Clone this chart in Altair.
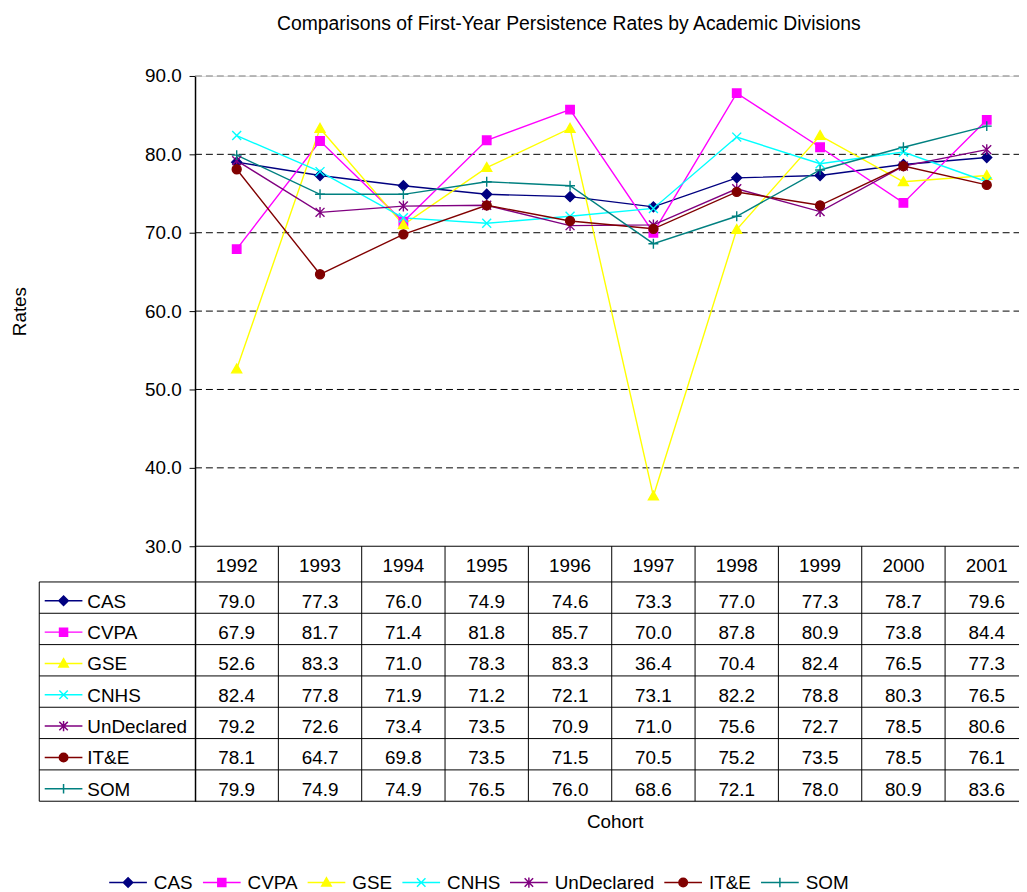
import altair as alt
import pandas as pd

TITLE = "Comparisons of First-Year Persistence Rates by Academic Divisions"
Y_TITLE = "Rates"
X_TITLE = "Cohort"
YEARS = [1992, 1993, 1994, 1995, 1996, 1997, 1998, 1999, 2000, 2001]
SERIES = ["CAS", "CVPA", "GSE", "CNHS", "UnDeclared", "IT&E", "SOM"]
CAS = [79.0, 77.3, 76.0, 74.9, 74.6, 73.3, 77.0, 77.3, 78.7, 79.6]
CVPA = [67.9, 81.7, 71.4, 81.8, 85.7, 70.0, 87.8, 80.9, 73.8, 84.4]
GSE = [52.6, 83.3, 71.0, 78.3, 83.3, 36.4, 70.4, 82.4, 76.5, 77.3]
CNHS = [82.4, 77.8, 71.9, 71.2, 72.1, 73.1, 82.2, 78.8, 80.3, 76.5]
UNDECLARED = [79.2, 72.6, 73.4, 73.5, 70.9, 71.0, 75.6, 72.7, 78.5, 80.6]
ITE = [78.1, 64.7, 69.8, 73.5, 71.5, 70.5, 75.2, 73.5, 78.5, 76.1]
SOM = [79.9, 74.9, 74.9, 76.5, 76.0, 68.6, 72.1, 78.0, 80.9, 83.6]
VALUES = [CAS, CVPA, GSE, CNHS, UNDECLARED, ITE, SOM]
Y_TICKS = [30, 40, 50, 60, 70, 80, 90]
GRID_LINES = [40, 50, 60, 70, 80, 90]

COLORS = ["#000080", "#FF00FF", "#FFFF00", "#00FFFF", "#800080", "#800000", "#008080"]
FONT = "Liberation Sans"
FS = 19

# ---- geometry (pixels, relative to plot origin) ----
PLOT_W = 830.5
PLOT_H = 731
COL_W = 84.0
PX_PER_UNIT = 474 / 60
Y_MAX = 90
Y_AXIS_MIN = 30
Y_MIN = Y_MAX - PLOT_H / PX_PER_UNIT
X_MIN = YEARS[0] - 0.5
X_MAX = X_MIN + PLOT_W / COL_W
X_END = YEARS[-1] + 0.5

HEADER_TOP = 474
HEADER_BOTTOM = 510
ROW_H = (PLOT_H - HEADER_BOTTOM) / len(SERIES)
LABEL_LEFT = -157
SYMBOL_X = -132.5
LABEL_X = -108.5
CONTENT_OFF = 19


def x_at(px):
    return X_MIN + px / COL_W


def y_at(py):
    return Y_MAX - py / PX_PER_UNIT


# ---- marker shapes ----
def diamond(r):
    return f"M0,{-r}L{r},0L0,{r}L{-r},0Z"


def square(r):
    r = 0.85 * r
    return f"M{-r},{-r}H{r}V{r}H{-r}Z"


def triangle(r):
    return f"M0,{-r}L{r},{0.75 * r}H{-r}Z"


def xmark(r):
    r = 0.9 * r
    return f"M{-r},{-r}L{r},{r}M{-r},{r}L{r},{-r}"


def star(r):
    a = 0.9 * r
    return f"M{-a},{-a}L{a},{a}M{-a},{a}L{a},{-a}M0,{-1.1 * r}V{1.1 * r}"


def circle(r):
    r = 0.9 * r
    return f"M{-r},0A{r},{r},0,1,1,{r},0A{r},{r},0,1,1,{-r},0Z"


def plus(r):
    return f"M{-r},0H{r}M0,{-r}V{r}"


SHAPES = [diamond, square, triangle, xmark, star, circle, plus]
MARKER_PATHS = [f(1) for f in SHAPES]
KEY_R = 0.25
KEY_PATHS = ["M-1,0H1" + f(KEY_R) for f in SHAPES]

# ---- data tables ----
long_rows, cell_rows, label_rows = [], [], []
for i, (s, vals) in enumerate(zip(SERIES, VALUES)):
    cy = y_at(HEADER_BOTTOM + i * ROW_H + CONTENT_OFF)
    label_rows.append({"series": s, "sx": x_at(SYMBOL_X), "lx": x_at(LABEL_X), "ty": cy})
    for yr, v in zip(YEARS, vals):
        long_rows.append({"series": s, "year": yr, "value": v})
        cell_rows.append({"series": s, "year": yr, "value": v, "ty": cy})
df_long = pd.DataFrame(long_rows)
df_cells = pd.DataFrame(cell_rows)
df_labels = pd.DataFrame(label_rows)
df_header = pd.DataFrame({"year": YEARS, "label": [str(y) for y in YEARS],
                          "ty": [y_at(HEADER_TOP + CONTENT_OFF)] * len(YEARS)})
df_grid = pd.DataFrame({"gy": GRID_LINES, "x0": [X_MIN] * len(GRID_LINES),
                        "x1": [X_END] * len(GRID_LINES),
                        "gcol": ["#808080" if g == Y_MAX else "#000000" for g in GRID_LINES]})

rule_rows = [{"x0": X_MIN, "x1": X_END, "y0": Y_AXIS_MIN, "y1": Y_AXIS_MIN}]
for i in range(len(SERIES) + 1):
    yb = y_at(HEADER_BOTTOM + i * ROW_H)
    rule_rows.append({"x0": x_at(LABEL_LEFT), "x1": X_END, "y0": yb, "y1": yb})
for k in range(1, len(YEARS) + 1):
    rule_rows.append({"x0": X_MIN + k, "x1": X_MIN + k, "y0": Y_MIN, "y1": Y_AXIS_MIN})
rule_rows.append({"x0": x_at(LABEL_LEFT), "x1": x_at(LABEL_LEFT), "y0": Y_MIN, "y1": y_at(HEADER_BOTTOM)})
df_rules = pd.DataFrame(rule_rows)

# ---- scales / axes ----
XS = alt.Scale(domain=[X_MIN, X_MAX], nice=False, zero=False)
YS = alt.Scale(domain=[Y_MIN, Y_MAX], nice=False, zero=False)
CS = alt.Scale(domain=SERIES, range=COLORS)

X_AXIS = alt.Axis(title=X_TITLE, labels=False, ticks=False, domain=False, grid=False,
                  titleFont=FONT, titleFontSize=FS, titleFontWeight="normal", titleColor="black",
                  titlePadding=11, titleX=423)
Y_AXIS = alt.Axis(values=Y_TICKS, format=".1f", grid=False, title=Y_TITLE,
                  titleFont=FONT, titleFontSize=FS, titleFontWeight="normal", titleColor="black",
                  titleX=-176.5, titleY=237, titleAngle=270, titleBaseline="middle", titleAlign="center",
                  labelFont=FONT, labelFontSize=FS, labelColor="black", labelPadding=8,
                  labelFlush=False, labelOverlap=False,
                  tickSize=6, tickColor="black", tickWidth=1, domainColor="black", domainWidth=1.5)


def X(field):
    return alt.X(field, scale=XS, axis=X_AXIS, title=X_TITLE)


def Y(field):
    return alt.Y(field, scale=YS, axis=Y_AXIS, title=Y_TITLE)


LEG = alt.Legend(title=None, orient="none", legendX=-87.5, legendY=793, direction="horizontal",
                 columns=len(SERIES), labelFont=FONT, labelFontSize=FS, labelColor="black",
                 symbolSize=1444, symbolStrokeWidth=1.5, labelOffset=6, columnPadding=6.5,
                 padding=0, symbolOpacity=1)

grid = alt.Chart(df_grid).mark_rule(strokeDash=[7, 4], strokeWidth=1).encode(
    x=X("x0:Q"), x2="x1:Q",
    y=Y("gy:Q"),
    color=alt.Color("gcol:N", scale=None, legend=None),
)

lines = alt.Chart(df_long).mark_line(strokeWidth=1.4).encode(
    x=X("year:Q"),
    y=Y("value:Q"),
    color=alt.Color("series:N", scale=CS, legend=None),
)

points = alt.Chart(df_long).mark_point(filled=True, size=100, strokeWidth=1.4, opacity=1).encode(
    x=X("year:Q"),
    y=Y("value:Q"),
    color=alt.Color("series:N", scale=CS, legend=None),
    stroke=alt.Stroke("series:N", scale=CS, legend=None),
    shape=alt.Shape("series:N", scale=alt.Scale(domain=SERIES, range=MARKER_PATHS), legend=None),
)

rules = alt.Chart(df_rules).mark_rule(color="black", strokeWidth=1).encode(
    x=X("x0:Q"), x2="x1:Q",
    y=Y("y0:Q"), y2="y1:Q",
)

cells = alt.Chart(df_cells).mark_text(font=FONT, fontSize=FS, color="black", align="center",
                                      baseline="middle", dy=1).encode(
    x=X("year:Q"),
    y=Y("ty:Q"),
    text=alt.Text("value:Q", format=".1f"),
)

header = alt.Chart(df_header).mark_text(font=FONT, fontSize=FS, color="black", align="center",
                                        baseline="middle", dy=1).encode(
    x=X("year:Q"),
    y=Y("ty:Q"),
    text="label:N",
)

labels = alt.Chart(df_labels).mark_text(font=FONT, fontSize=FS, color="black", align="left",
                                        baseline="middle", dy=1).encode(
    x=X("lx:Q"),
    y=Y("ty:Q"),
    text="series:N",
)

symbols = alt.Chart(df_labels).mark_point(filled=True, size=1444, strokeWidth=1.5, opacity=1).encode(
    x=X("sx:Q"),
    y=Y("ty:Q"),
    color=alt.Color("series:N", scale=CS, legend=LEG),
    stroke=alt.Stroke("series:N", scale=CS, legend=LEG),
    shape=alt.Shape("series:N", scale=alt.Scale(domain=SERIES, range=KEY_PATHS), legend=LEG),
)

chart = alt.layer(grid, lines, points, rules, cells, header, labels, symbols).resolve_scale(
    color="independent", stroke="independent", shape="independent"
).properties(
    width=PLOT_W,
    height=PLOT_H,
    title=alt.Title(TITLE, font=FONT, fontSize=19.5, fontWeight="normal", color="black",
                    anchor="middle", frame="group", dx=-38.5, offset=33),
    padding={"left": 188.5, "top": 65, "right": 0, "bottom": 88},
    autosize=alt.AutoSizeParams(type="none"),
).configure_view(stroke=None).configure(background="white")

chart.save("out.html", embed_options={"renderer": "svg", "actions": False})
